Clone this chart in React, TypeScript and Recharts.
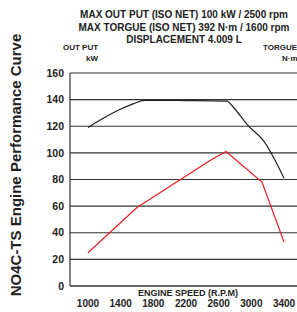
import { LineChart, Line, XAxis, YAxis, CartesianGrid } from 'recharts'

// Kurva mesin NO4C-TS
const RPM_TICKS = [1000, 1400, 1800, 2200, 2600, 3000, 3400]
const Y_TICKS = [0, 20, 40, 60, 80, 100, 120, 140, 160]

const torqueCurve = [
  { rpm: 1000, value: 119 },
  { rpm: 1160, value: 125 },
  { rpm: 1370, value: 132 },
  { rpm: 1560, value: 137 },
  { rpm: 1690, value: 139.5 },
  { rpm: 2200, value: 139.3 },
  { rpm: 2700, value: 138.8 },
  { rpm: 2790, value: 133.5 },
  { rpm: 2960, value: 120.5 },
  { rpm: 3150, value: 109 },
  { rpm: 3400, value: 81 },
]

const outputCurve = [
  { rpm: 1000, value: 25 },
  { rpm: 1600, value: 59 },
  { rpm: 2500, value: 94.5 },
  { rpm: 2690, value: 101 },
  { rpm: 3130, value: 78 },
  { rpm: 3400, value: 33 },
]

const TITLE_LINES = [
  'MAX OUT PUT (ISO NET) 100 kW / 2500 rpm',
  'MAX TORGUE (ISO NET) 392 N\u00b7m / 1600 rpm',
  'DISPLACEMENT 4.009 L',
]

const FONT = '"Liberation Sans", Arial, sans-serif'
const INK = '#222'
const RED = '#ec1c24'

const tickStyle = { fontSize: 10, fill: INK, fontWeight: 700, fontFamily: FONT }

export default function App() {
  return (
    <div style={{ position: 'absolute', left: 0, top: 0, width: 297, height: 312, overflow: 'hidden', background: '#fff', fontFamily: FONT, color: INK }}>
      <div style={{
        position: 'absolute', left: 16 - 150, top: 156, width: 300, textAlign: 'center',
        transform: 'rotate(-90deg)', fontSize: 15, fontWeight: 700, lineHeight: '18px',
      }}>
        NO4C-TS Engine Performance Curve
      </div>
      {TITLE_LINES.map((t, i) => (
        <div key={i} style={{ position: 'absolute', left: 70, width: 228, top: 9 + i * 12.5, textAlign: 'center', fontSize: 10, fontWeight: 700, lineHeight: '12px' }}>
          {t}
        </div>
      ))}
      <div style={{ position: 'absolute', left: 63, top: 43, fontSize: 8, fontWeight: 700 }}>OUT PUT</div>
      <div style={{ position: 'absolute', left: 86, top: 54, fontSize: 8, fontWeight: 700 }}>kW</div>
      <div style={{ position: 'absolute', left: 263, top: 43, fontSize: 8, fontWeight: 700 }}>TORGUE</div>
      <div style={{ position: 'absolute', left: 282, top: 54, fontSize: 8, fontWeight: 700 }}>N·m</div>
      <div style={{ position: 'absolute', left: 70, width: 236, top: 288, textAlign: 'center', fontSize: 9, fontWeight: 700 }}>
        ENGINE SPEED (R.P.M)
      </div>

      <div style={{ position: 'absolute', left: 0, top: 0 }}>
        <LineChart width={302} height={312} margin={{ top: 73, right: 0, bottom: 0, left: 0 }}>
          <CartesianGrid vertical={false} stroke="#333" strokeWidth={1.2} />
          <XAxis
            type="number" dataKey="rpm" domain={[780, 3620]} ticks={RPM_TICKS} allowDataOverflow
            height={26} tickSize={0} tickMargin={14} tick={tickStyle}
            axisLine={{ stroke: '#333', strokeWidth: 1.2 }}
          />
          <YAxis
            type="number" domain={[0, 160]} ticks={Y_TICKS} width={70}
            tickSize={0} tickMargin={6} tick={{ ...tickStyle, fontSize: 10.5 }}
            axisLine={{ stroke: '#333', strokeWidth: 1.2 }}
          />
          <Line data={torqueCurve} dataKey="value" type="monotone" stroke={INK} strokeWidth={1.2} dot={false} isAnimationActive={false} />
          <Line data={outputCurve} dataKey="value" type="linear" stroke={RED} strokeWidth={1.2} dot={false} isAnimationActive={false} />
        </LineChart>
      </div>
    </div>
  )
}
